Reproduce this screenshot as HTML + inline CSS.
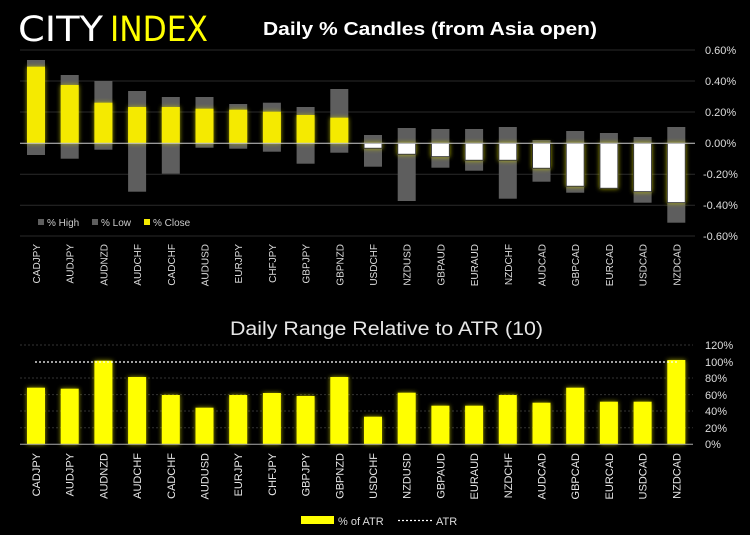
<!DOCTYPE html>
<html><head><meta charset="utf-8"><style>
html,body{margin:0;padding:0;background:#000;}
svg{display:block;font-family:"Liberation Sans",sans-serif;}
</style></head><body>
<svg width="750" height="535" viewBox="0 0 750 535" xmlns="http://www.w3.org/2000/svg">
<defs>
<filter id="g" x="-50%" y="-50%" width="200%" height="200%"><feGaussianBlur in="SourceAlpha" stdDeviation="2.5" result="b"/><feFlood flood-color="#c8c800" flood-opacity="0.8"/><feComposite in2="b" operator="in"/><feMerge><feMergeNode/><feMergeNode in="SourceGraphic"/></feMerge></filter>
</defs>
<rect width="750" height="535" fill="#000"/>
<text x="18" y="41" font-size="35" fill="#fff" style="font-family:'DejaVu Sans ExtraLight','DejaVu Sans Condensed',sans-serif;font-weight:200" textLength="85" lengthAdjust="spacingAndGlyphs">CITY</text>
<text x="110" y="41" font-size="35" fill="#ffff00" style="font-family:'DejaVu Sans ExtraLight','DejaVu Sans Condensed',sans-serif;font-weight:200" textLength="98" lengthAdjust="spacingAndGlyphs">INDEX</text>
<text x="263" y="35" font-size="18" font-weight="bold" fill="#fff" textLength="334" lengthAdjust="spacingAndGlyphs">Daily % Candles (from Asia open)</text>
<g stroke="#2a2a2a" stroke-width="1">
<line x1="20" y1="50" x2="695" y2="50"/><line x1="20" y1="81" x2="695" y2="81"/><line x1="20" y1="112" x2="695" y2="112"/>
<line x1="20" y1="174.3" x2="695" y2="174.3"/><line x1="20" y1="205.3" x2="695" y2="205.3"/><line x1="20" y1="236" x2="695" y2="236"/>
</g>
<g font-size="11" fill="#ddd">
<text x="705" y="54">0.60%</text><text x="705" y="85">0.40%</text><text x="705" y="116">0.20%</text><text x="705" y="147">0.00%</text>
<text x="703" y="178">-0.20%</text><text x="703" y="209">-0.40%</text><text x="703" y="240">-0.60%</text>
</g>
<g fill="#5e5e5e">
<rect x="27" y="60" width="18" height="95"/>
<rect x="60.7" y="75" width="18" height="83.7"/>
<rect x="94.4" y="81" width="18" height="68.7"/>
<rect x="128.1" y="91" width="18" height="100.7"/>
<rect x="161.8" y="97" width="18" height="76.7"/>
<rect x="195.5" y="97" width="18" height="50.7"/>
<rect x="229.2" y="104" width="18" height="44.7"/>
<rect x="262.9" y="102.7" width="18" height="49"/>
<rect x="296.6" y="107" width="18" height="56.7"/>
<rect x="330.3" y="89" width="18" height="63.7"/>
<rect x="364" y="135" width="18" height="31.7"/>
<rect x="397.7" y="128" width="18" height="73"/>
<rect x="431.4" y="129" width="18" height="38.7"/>
<rect x="465.1" y="129" width="18" height="41.7"/>
<rect x="498.8" y="127" width="18" height="71.7"/>
<rect x="532.5" y="140" width="18" height="41.7"/>
<rect x="566.2" y="131" width="18" height="61.7"/>
<rect x="599.9" y="133" width="18" height="55.3"/>
<rect x="633.6" y="137" width="18" height="65.7"/>
<rect x="667.3" y="127" width="18" height="95.7"/>
</g>
<g fill="#f5ea00" filter="url(#g)">
<rect x="27" y="66.7" width="18" height="76.6"/>
<rect x="60.7" y="85" width="18" height="58.3"/>
<rect x="94.4" y="102.7" width="18" height="40.6"/>
<rect x="128.1" y="107" width="18" height="36.3"/>
<rect x="161.8" y="107" width="18" height="36.3"/>
<rect x="195.5" y="108.7" width="18" height="34.6"/>
<rect x="229.2" y="109.7" width="18" height="33.6"/>
<rect x="262.9" y="111.7" width="18" height="31.6"/>
<rect x="296.6" y="115" width="18" height="28.3"/>
<rect x="330.3" y="117.7" width="18" height="25.6"/>
</g>
<g fill="#fff" stroke="#333" stroke-width="1" filter="url(#g)">
<rect x="364" y="143.3" width="18" height="5"/>
<rect x="397.7" y="143.3" width="18" height="11"/>
<rect x="431.4" y="143.3" width="18" height="13.4"/>
<rect x="465.1" y="143.3" width="18" height="17"/>
<rect x="498.8" y="143.3" width="18" height="17"/>
<rect x="532.5" y="143.3" width="18" height="25"/>
<rect x="566.2" y="143.3" width="18" height="43"/>
<rect x="599.9" y="143.3" width="18" height="45"/>
<rect x="633.6" y="143.3" width="18" height="48.4"/>
<rect x="667.3" y="143.3" width="18" height="59.4"/>
</g>
<line x1="20" y1="143.3" x2="695" y2="143.3" stroke="#ccc" stroke-width="1"/>
<rect x="38" y="219" width="6" height="6" fill="#5e5e5e"/><text x="47" y="226" font-size="10" fill="#ccc">% High</text>
<rect x="92" y="219" width="6" height="6" fill="#5e5e5e"/><text x="101" y="226" font-size="10" fill="#ccc">% Low</text>
<rect x="144" y="219" width="6" height="6" fill="#f5ea00"/><text x="153" y="226" font-size="10" fill="#ccc">% Close</text>
<g font-size="10" fill="#ddd" text-anchor="end">
<text transform="translate(40,244) rotate(-90)">CADJPY</text>
<text transform="translate(73.7,244) rotate(-90)">AUDJPY</text>
<text transform="translate(107.4,244) rotate(-90)">AUDNZD</text>
<text transform="translate(141.1,244) rotate(-90)">AUDCHF</text>
<text transform="translate(174.8,244) rotate(-90)">CADCHF</text>
<text transform="translate(208.5,244) rotate(-90)">AUDUSD</text>
<text transform="translate(242.2,244) rotate(-90)">EURJPY</text>
<text transform="translate(275.9,244) rotate(-90)">CHFJPY</text>
<text transform="translate(309.6,244) rotate(-90)">GBPJPY</text>
<text transform="translate(343.3,244) rotate(-90)">GBPNZD</text>
<text transform="translate(377,244) rotate(-90)">USDCHF</text>
<text transform="translate(410.7,244) rotate(-90)">NZDUSD</text>
<text transform="translate(444.4,244) rotate(-90)">GBPAUD</text>
<text transform="translate(478.1,244) rotate(-90)">EURAUD</text>
<text transform="translate(511.8,244) rotate(-90)">NZDCHF</text>
<text transform="translate(545.5,244) rotate(-90)">AUDCAD</text>
<text transform="translate(579.2,244) rotate(-90)">GBPCAD</text>
<text transform="translate(612.9,244) rotate(-90)">EURCAD</text>
<text transform="translate(646.6,244) rotate(-90)">USDCAD</text>
<text transform="translate(680.3,244) rotate(-90)">NZDCAD</text>
</g>
<text x="230" y="335" font-size="19" fill="#e6e6e6" textLength="313" lengthAdjust="spacingAndGlyphs">Daily Range Relative to ATR (10)</text>
<g stroke="#333" stroke-width="1" stroke-dasharray="2,2">
<line x1="20" y1="345" x2="693" y2="345"/><line x1="20" y1="378" x2="693" y2="378"/><line x1="20" y1="394.6" x2="693" y2="394.6"/>
<line x1="20" y1="411" x2="693" y2="411"/><line x1="20" y1="427.7" x2="693" y2="427.7"/>
</g>
<g fill="#ffff00" filter="url(#g)">
<rect x="27" y="387.7" width="18" height="56.6"/>
<rect x="60.7" y="388.7" width="18" height="55.6"/>
<rect x="94.4" y="360.7" width="18" height="83.6"/>
<rect x="128.1" y="377" width="18" height="67.3"/>
<rect x="161.8" y="395" width="18" height="49.3"/>
<rect x="195.5" y="407.7" width="18" height="36.6"/>
<rect x="229.2" y="395" width="18" height="49.3"/>
<rect x="262.9" y="393" width="18" height="51.3"/>
<rect x="296.6" y="396" width="18" height="48.3"/>
<rect x="330.3" y="377" width="18" height="67.3"/>
<rect x="364" y="416.7" width="18" height="27.6"/>
<rect x="397.7" y="392.7" width="18" height="51.6"/>
<rect x="431.4" y="405.7" width="18" height="38.6"/>
<rect x="465.1" y="405.7" width="18" height="38.6"/>
<rect x="498.8" y="395" width="18" height="49.3"/>
<rect x="532.5" y="402.7" width="18" height="41.6"/>
<rect x="566.2" y="387.7" width="18" height="56.6"/>
<rect x="599.9" y="401.7" width="18" height="42.6"/>
<rect x="633.6" y="401.7" width="18" height="42.6"/>
<rect x="667.3" y="360" width="18" height="84.3"/>
</g>
<line x1="35" y1="362" x2="677" y2="362" stroke="#fff" stroke-width="1.3" stroke-dasharray="2,2"/>
<line x1="20" y1="444.3" x2="693" y2="444.3" stroke="#aaa" stroke-width="1"/>
<g font-size="11" fill="#ddd">
<text x="705" y="349">120%</text><text x="705" y="366">100%</text><text x="705" y="382">80%</text><text x="705" y="399">60%</text>
<text x="705" y="415">40%</text><text x="705" y="432">20%</text><text x="705" y="448">0%</text>
</g>
<g font-size="11" fill="#e6e6e6" text-anchor="end">
<text transform="translate(40,453) rotate(-90)">CADJPY</text>
<text transform="translate(73.7,453) rotate(-90)">AUDJPY</text>
<text transform="translate(107.4,453) rotate(-90)">AUDNZD</text>
<text transform="translate(141.1,453) rotate(-90)">AUDCHF</text>
<text transform="translate(174.8,453) rotate(-90)">CADCHF</text>
<text transform="translate(208.5,453) rotate(-90)">AUDUSD</text>
<text transform="translate(242.2,453) rotate(-90)">EURJPY</text>
<text transform="translate(275.9,453) rotate(-90)">CHFJPY</text>
<text transform="translate(309.6,453) rotate(-90)">GBPJPY</text>
<text transform="translate(343.3,453) rotate(-90)">GBPNZD</text>
<text transform="translate(377,453) rotate(-90)">USDCHF</text>
<text transform="translate(410.7,453) rotate(-90)">NZDUSD</text>
<text transform="translate(444.4,453) rotate(-90)">GBPAUD</text>
<text transform="translate(478.1,453) rotate(-90)">EURAUD</text>
<text transform="translate(511.8,453) rotate(-90)">NZDCHF</text>
<text transform="translate(545.5,453) rotate(-90)">AUDCAD</text>
<text transform="translate(579.2,453) rotate(-90)">GBPCAD</text>
<text transform="translate(612.9,453) rotate(-90)">EURCAD</text>
<text transform="translate(646.6,453) rotate(-90)">USDCAD</text>
<text transform="translate(680.3,453) rotate(-90)">NZDCAD</text>
</g>
<rect x="301" y="516" width="33" height="8" fill="#ffff00"/>
<text x="338" y="525" font-size="11" fill="#ddd">% of ATR</text>
<line x1="398" y1="520.5" x2="432" y2="520.5" stroke="#fff" stroke-width="1.3" stroke-dasharray="2,2"/>
<text x="436" y="525" font-size="11" fill="#ddd">ATR</text>
</svg>
</body></html>
